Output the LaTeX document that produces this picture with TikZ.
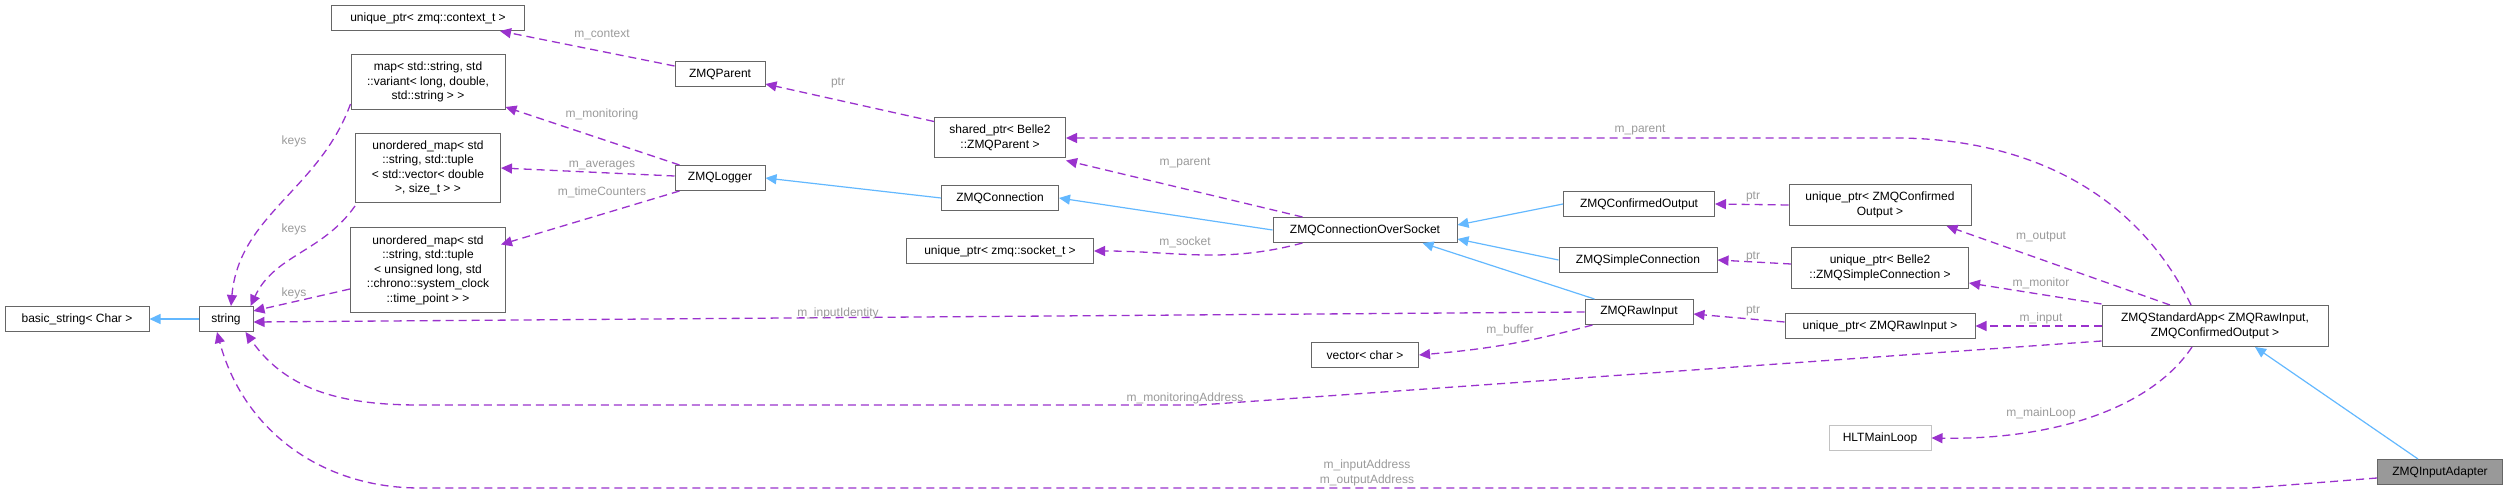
\documentclass[tikz,border=0pt]{standalone}
\usepackage{fontspec}
\setmainfont{Liberation Sans}
\usepackage{tikz}
\usetikzlibrary{arrows.meta,positioning,shapes}

\definecolor{usecol}{HTML}{9A32CD}
\definecolor{inhcol}{HTML}{63B8FF}
\definecolor{lblcol}{HTML}{9A9A9A}
\definecolor{boxcol}{HTML}{666666}

\tikzset{
  cls/.style={draw=boxcol, line width=1pt, fill=white, inner sep=2pt, minimum height=25pt, align=center, font=\fontsize{12}{14.5}\selectfont},
  usage/.style={usecol, line width=1.3pt, dash pattern=on 8pt off 5pt, -{Triangle[length=11pt,width=10pt]}},
  inh/.style={inhcol, line width=1.2pt, -{Triangle[length=11pt,width=10pt]}},
  lbl/.style={lblcol, font=\fontsize{12}{14.5}\selectfont, inner sep=0pt, align=center}
}

\begin{document}
\begin{tikzpicture}[x=1pt, y=-1pt]
    \useasboundingbox (0,0) rectangle (2508,494);

    % classes
    \node[cls, minimum width=193pt] (ctx) at (428,18) {unique\_ptr\textless{} zmq::context\_t \textgreater};
    \node[cls, minimum width=154pt, minimum height=55pt] (mon) at (428,82) {map\textless{} std::string, std\\::variant\textless{} long, double,\\std::string \textgreater{} \textgreater};
    \node[cls, minimum width=145pt, minimum height=69pt] (avg) at (428,168) {unordered\_map\textless{} std\\::string, std::tuple\\\textless{} std::vector\textless{} double\\\textgreater, size\_t \textgreater{} \textgreater};
    \node[cls, minimum width=155pt, minimum height=84pt] (tim) at (428,270) {unordered\_map\textless{} std\\::string, std::tuple\\\textless{} unsigned long, std\\::chrono::system\_clock\\::time\_point \textgreater{} \textgreater};
    \node[cls, minimum width=144pt] (bstr) at (77,319) {basic\_string\textless{} Char \textgreater};
    \node[cls, minimum width=54pt] (str) at (226,319) {string};
    \node[cls, minimum width=90pt] (parent) at (720,74) {ZMQParent};
    \node[cls, minimum width=90pt] (logger) at (720,178) {ZMQLogger};
    \node[cls, minimum width=131pt, minimum height=40pt] (shp) at (1000,138) {shared\_ptr\textless{} Belle2\\::ZMQParent \textgreater};
    \node[cls, minimum width=117pt] (conn) at (1000,198) {ZMQConnection};
    \node[cls, minimum width=187pt] (sock) at (1000,251) {unique\_ptr\textless{} zmq::socket\_t \textgreater};
    \node[cls, minimum width=184pt] (cos) at (1365,230) {ZMQConnectionOverSocket};
    \node[cls, minimum width=107pt] (vec) at (1365,355) {vector\textless{} char \textgreater};
    \node[cls, minimum width=151pt] (confout) at (1639,204) {ZMQConfirmedOutput};
    \node[cls, minimum width=158pt] (simple) at (1638,260) {ZMQSimpleConnection};
    \node[cls, minimum width=108pt] (raw) at (1639,312) {ZMQRawInput};
    \node[cls, minimum width=182pt, minimum height=41pt] (upconf) at (1880,205) {unique\_ptr\textless{} ZMQConfirmed\\Output \textgreater};
    \node[cls, minimum width=177pt, minimum height=41pt] (upsimple) at (1880,268) {unique\_ptr\textless{} Belle2\\::ZMQSimpleConnection \textgreater};
    \node[cls, minimum width=190pt] (upraw) at (1880,326) {unique\_ptr\textless{} ZMQRawInput \textgreater};
    \node[cls, draw=lblcol!60, minimum width=102pt] (hlt) at (1880,438) {HLTMainLoop};
    \node[cls, minimum width=226pt, minimum height=41pt] (app) at (2215,326) {ZMQStandardApp\textless{} ZMQRawInput,\\ZMQConfirmedOutput \textgreater};
    \node[cls, fill=black!40, draw=black!60, minimum width=125pt] (adapter) at (2440,472) {ZMQInputAdapter};

    % inheritance
    \draw[inh] (str) -- (bstr);
    \draw[inh] (conn.west) -- (logger.east);
    \draw[inh] (cos.west) -- (conn.east);
    \draw[inh] (confout.west) -- ([yshift=-8pt]cos.north east);
    \draw[inh] (simple.west) -- ([yshift=4pt]cos.south east);
    \draw[inh] ([xshift=10pt]raw.north west) -- ([xshift=-35pt]cos.south east);
    \draw[inh] ([xshift=-22pt]adapter.north) -- ([xshift=40pt]app.south);

    % usage
    \draw[usage] ([yshift=8pt]parent.west) -- ([xshift=-25pt]ctx.south east);
    \draw[usage] ([yshift=-4pt]shp.north west) -- ([yshift=3pt]parent.south east);
    \draw[usage] ([xshift=5pt]logger.north west) -- ([yshift=3pt]mon.south east);
    \draw[usage] ([yshift=2pt]logger.west) -- (avg.east);
    \draw[usage] ([xshift=5pt]logger.south west) -- ([yshift=-17pt]avg.east |- tim.north);
    \draw[usage] ([yshift=6pt]mon.south west) to[out=-110,in=85] ([xshift=5pt]str.north);
    \draw[usage] ([yshift=-3pt]avg.south west) to[out=-125,in=65] ([xshift=-3pt]str.north east);
    \draw[usage] ([yshift=-19pt]tim.west) -- ([yshift=-5pt]str.north east);
    \draw[usage] ([xshift=30pt]cos.north west) -- ([yshift=-2pt]shp.south east);
    \draw[usage] ([xshift=30pt]cos.south west) to[out=195,in=0] (sock.east);
    \draw[usage] (raw.west) -- ([yshift=-3pt]str.east);
    \draw[usage] ([xshift=8pt]raw.south west) to[out=195,in=5] (vec.east);
    \draw[usage] (upconf.west) -- (confout.east);
    \draw[usage] ([yshift=4pt]upsimple.west) -- (simple.east);
    \draw[usage] ([yshift=4pt]upraw.west) -- ([yshift=-2pt]raw.east);
    \draw[usage] ([xshift=-24pt]app.north) .. controls (2130,180) and (2010,138) .. (1895,138) -- (shp.east);
    \draw[usage] ([xshift=-45pt]app.north) -- ([xshift=-25pt]upconf.south east);
    \draw[usage] ([yshift=1pt]app.north west) -- ([yshift=6pt]upsimple.south east);
    \draw[usage] (app.west) -- (upraw.east);
    \draw[usage] ([yshift=6pt]app.south west) -- (1200,405) -- (420,405) to[out=180,in=-55] ([xshift=-8pt]str.south east);
    \draw[usage] ([xshift=-23pt]app.south) .. controls (2150,410) and (2050,440) .. (hlt.east);
    \draw[usage] ([yshift=-6pt]adapter.west) -- (2250,488) -- (420,488) to[out=180,in=-75] ([xshift=-9pt]str.south);

    % labels
    \node[lbl] (lctx) at (602,35) {m\_context};
    \node[lbl] (lptr) at (838,83) {ptr};
    \node[lbl] (lmon) at (602,114) {m\_monitoring};
    \node[lbl] (lavg) at (602,166) {m\_averages};
    \node[lbl] (ltim) at (602,192) {m\_timeCounters};
    \node[lbl] (lkey1) at (294,141) {keys};
    \node[lbl] (lkey2) at (294,229) {keys};
    \node[lbl] (lkey3) at (294,293) {keys};
    \node[lbl] (lpar) at (1185,163) {m\_parent};
    \node[lbl] (lsock) at (1185,242) {m\_socket};
    \node[lbl] (lid) at (838,313) {m\_inputIdentity};
    \node[lbl] (lbuf) at (1510,330) {m\_buffer};
    \node[lbl] (lptr1) at (1753,197) {ptr};
    \node[lbl] (lptr2) at (1753,257) {ptr};
    \node[lbl] (lptr3) at (1753,311) {ptr};
    \node[lbl] (lpar2) at (1640,130) {m\_parent};
    \node[lbl] (lout) at (2041,237) {m\_output};
    \node[lbl] (lmonit) at (2041,283) {m\_monitor};
    \node[lbl] (linp) at (2041,318) {m\_input};
    \node[lbl] (lmaddr) at (1185,398) {m\_monitoringAddress};
    \node[lbl] (lloop) at (2041,413) {m\_mainLoop};
    \node[lbl] (laddr) at (1367,473) {m\_inputAddress\\m\_outputAddress};
\end{tikzpicture}
\end{document}
